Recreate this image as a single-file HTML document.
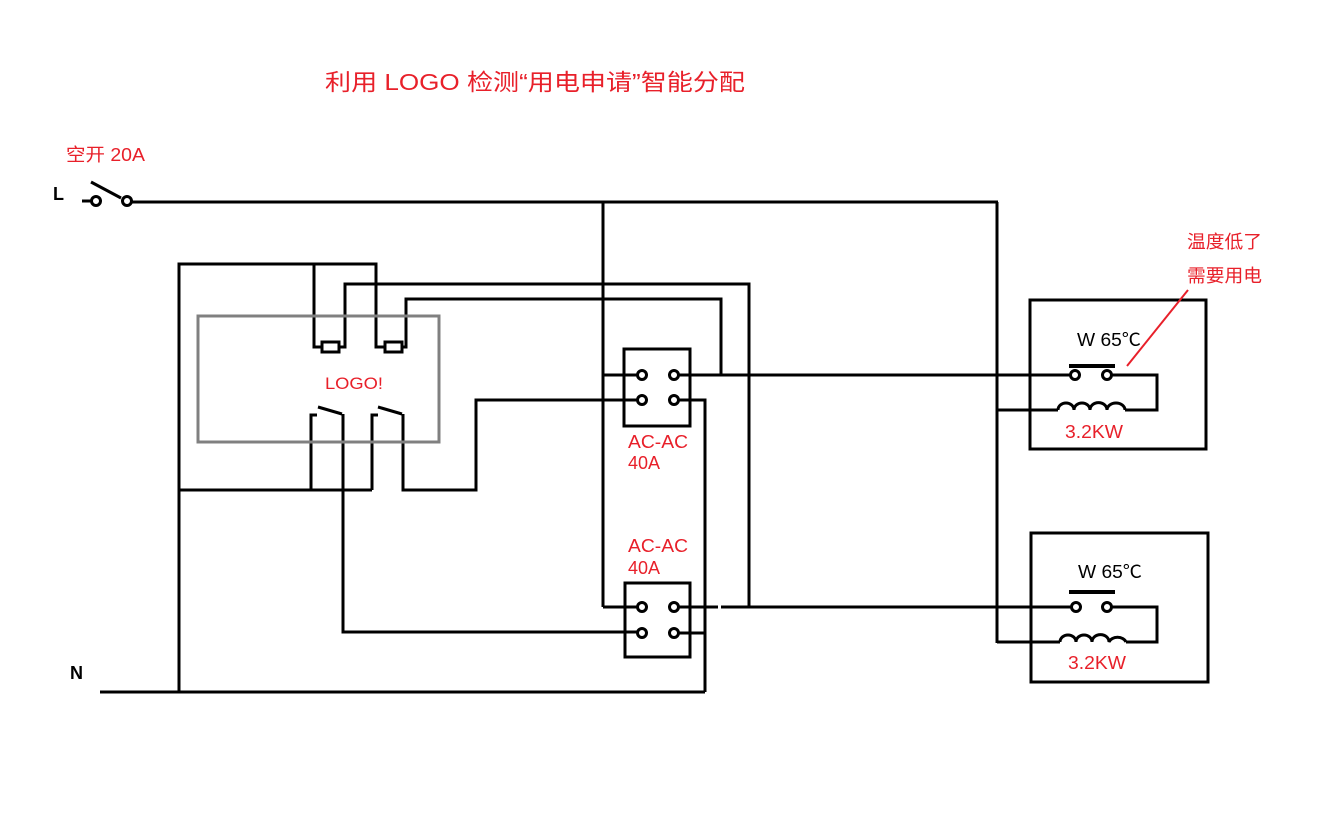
<!DOCTYPE html>
<html><head><meta charset="utf-8"><style>
html,body{margin:0;padding:0;background:#fff;}
svg{display:block;}
text{font-family:"Liberation Sans","Noto Sans CJK SC",sans-serif;}
</style></head><body>
<svg width="1344" height="837" viewBox="0 0 1344 837" xmlns="http://www.w3.org/2000/svg">
<rect width="1344" height="837" fill="#fff"/>
<g fill="none" stroke="#000" stroke-width="3">
<line x1="82" y1="201" x2="91" y2="201"/>
<circle cx="96" cy="201" r="4.5"/>
<circle cx="127" cy="201" r="4.5"/>
<line x1="91" y1="182" x2="121" y2="198"/>
<line x1="132" y1="202" x2="998" y2="202"/>
<line x1="997" y1="202" x2="997" y2="643"/>
<line x1="603" y1="202" x2="603" y2="607"/>
<line x1="603" y1="375" x2="637" y2="375"/>
<line x1="603" y1="607" x2="637" y2="607"/>
<polyline points="179,692 179,264 376,264 376,347 385,347"/>
<polyline points="314,264 314,347 322,347"/>
<rect x="322" y="342" width="17" height="10"/>
<rect x="385" y="342" width="17" height="10"/>
<polyline points="339,347 345,347 345,284 749,284 749,607"/>
<polyline points="402,347 406,347 406,299 721,299 721,375"/>
<polyline points="317,415 311,415 311,490"/>
<line x1="318" y1="407" x2="342" y2="414"/>
<polyline points="343,414 343,632 637,632"/>
<polyline points="378,415 372,415 372,490"/>
<line x1="378" y1="407" x2="402" y2="414"/>
<polyline points="403,414 403,490 476,490 476,400 637,400"/>
<line x1="179" y1="490" x2="372" y2="490"/>
<rect x="624" y="349" width="66" height="77"/>
<circle cx="642" cy="375" r="4.5"/><circle cx="674" cy="375" r="4.5"/>
<circle cx="642" cy="400" r="4.5"/><circle cx="674" cy="400" r="4.5"/>
<line x1="679" y1="375" x2="1070" y2="375"/>
<polyline points="679,400 705,400 705,692"/>
<rect x="625" y="583" width="65" height="74"/>
<circle cx="642" cy="607" r="4.5"/><circle cx="674" cy="607" r="4.5"/>
<circle cx="642" cy="633" r="4.5"/><circle cx="674" cy="633" r="4.5"/>
<line x1="679" y1="607" x2="718" y2="607"/>
<line x1="721" y1="607" x2="1071" y2="607"/>
<line x1="679" y1="633" x2="705" y2="633"/>
<line x1="100" y1="692" x2="705" y2="692"/>
<rect x="1030" y="300" width="176" height="149"/>
<line x1="1069" y1="366" x2="1115" y2="366" stroke-width="4"/>
<circle cx="1075" cy="375" r="4.5"/><circle cx="1107" cy="375" r="4.5"/>
<polyline points="1112,375 1157,375 1157,410 1125,410"/>
<line x1="997" y1="410" x2="1058" y2="410"/>
<path d="M1058,410 a8,7 0 0 1 16,0 a8,7 0 0 1 16,0 a8,7 0 0 1 17,0 a9,7 0 0 1 18,0"/>
<rect x="1031" y="533" width="177" height="149"/>
<line x1="1069" y1="592" x2="1115" y2="592" stroke-width="4"/>
<circle cx="1076" cy="607" r="4.5"/><circle cx="1107" cy="607" r="4.5"/>
<polyline points="1112,607 1157,607 1157,642 1126,642"/>
<line x1="997" y1="642" x2="1060" y2="642"/>
<path d="M1060,642 a8,7 0 0 1 16,0 a8,7 0 0 1 16,0 a8,7 0 0 1 17,0 a9,7 0 0 1 17,0"/>
</g>
<rect x="198" y="316" width="241" height="126" fill="none" stroke="#808080" stroke-width="3"/>
<line x1="1127" y1="366" x2="1188" y2="290" stroke="#e8202a" stroke-width="2"/>
<g fill="#e8202a">
<text x="325" y="90" font-size="23" textLength="420" lengthAdjust="spacingAndGlyphs">利用 LOGO 检测“用电申请”智能分配</text>
<text x="66" y="161" font-size="18" textLength="79" lengthAdjust="spacingAndGlyphs">空开 20A</text>
<text x="325" y="389" font-size="17" textLength="58" lengthAdjust="spacingAndGlyphs">LOGO!</text>
<text x="628" y="448" font-size="18" textLength="60" lengthAdjust="spacingAndGlyphs">AC-AC</text>
<text x="628" y="469" font-size="18">40A</text>
<text x="628" y="552" font-size="18" textLength="60" lengthAdjust="spacingAndGlyphs">AC-AC</text>
<text x="628" y="574" font-size="18">40A</text>
<text x="1065" y="438" font-size="18" textLength="58" lengthAdjust="spacingAndGlyphs">3.2KW</text>
<text x="1068" y="669" font-size="18" textLength="58" lengthAdjust="spacingAndGlyphs">3.2KW</text>
<text x="1187" y="248" font-size="18" textLength="75" lengthAdjust="spacingAndGlyphs">温度低了</text>
<text x="1187" y="282" font-size="18" textLength="75" lengthAdjust="spacingAndGlyphs">需要用电</text>
</g>
<g fill="#000">
<text x="53" y="200" font-size="18" font-weight="bold">L</text>
<text x="70" y="679" font-size="18" font-weight="bold">N</text>
<text x="1077" y="346" font-size="18" textLength="64" lengthAdjust="spacingAndGlyphs">W 65℃</text>
<text x="1078" y="578" font-size="18" textLength="64" lengthAdjust="spacingAndGlyphs">W 65℃</text>
</g>
</svg>
</body></html>
